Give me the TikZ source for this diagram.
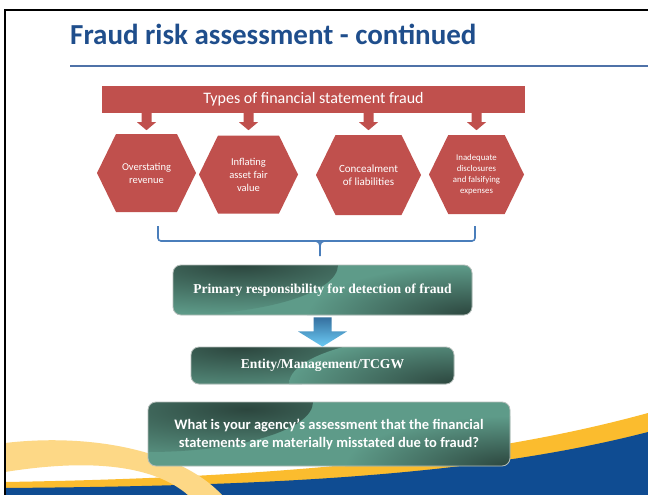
\documentclass[tikz,border=0pt]{standalone}
\usepackage{fontspec}
\setmainfont{Carlito}
\newfontfamily\cambria{Liberation Serif}
\usepackage{tikz}
\usetikzlibrary{shapes.symbols}

\definecolor{titleblue}{HTML}{1F4E8C}
\definecolor{rulegray}{HTML}{4F72A8}
\definecolor{fraudred}{HTML}{C0504D}
\definecolor{bracketblue}{HTML}{4A7EBB}
\definecolor{tealmid}{HTML}{5E9B89}
\definecolor{tealdark}{HTML}{2C463E}
\definecolor{boxedge}{HTML}{B4BDB9}
\definecolor{arrowtop}{HTML}{35709F}
\definecolor{arrowbot}{HTML}{6CCBF5}
\definecolor{bandblue}{HTML}{0F4C92}
\definecolor{bandyellow}{HTML}{FBBC2E}
\definecolor{paleyellow}{HTML}{FDD886}

\begin{document}
\begin{tikzpicture}[x=1pt, y=-1pt,
		hexa/.style={signal, signal to=west and east, signal pointer angle=128, fill=fraudred, text=white, minimum width=99pt, minimum height=78pt, inner sep=0pt, align=center},
		tealbox/.style={rectangle, rounded corners=8pt, draw=boxedge, line width=0.8pt, fill=tealmid, text=white, align=center, inner sep=0pt,
			path picture={
				\shade[inner color=tealdark, outer color=tealmid] (path picture bounding box.north west) ellipse [x radius=165pt, y radius=50pt];
				\shade[inner color=tealdark, outer color=tealmid] (path picture bounding box.south east) ellipse [x radius=165pt, y radius=50pt];}},
		bracket/.style={draw=bracketblue, line width=1.6pt}]
			\useasboundingbox (0,0) rectangle (648,495);
			\fill[white] (0,0) rectangle (648,495);
			% bands along the bottom
			\fill[bandyellow] (5,482) .. controls (250,478) and (470,462) .. (648,413) -- (648,495) -- (5,495) -- cycle;
			\fill[bandblue] (5,488) .. controls (250,486) and (470,478) .. (648,432) -- (648,495) -- (5,495) -- cycle;
			\fill[paleyellow] (5,443) .. controls (90,433) and (180,450) .. (222,495) -- (188,495) .. controls (150,462) and (80,460) .. (5,472) -- cycle;
			\draw[line width=2pt] (5,495) -- (5,10.5) -- (648,10.5);
			
			\node[anchor=base west, inner sep=0pt, text=titleblue, font=\fontsize{29}{34}\selectfont\bfseries] at (70,45) (title){Fraud risk assessment - continued};
			\draw[rulegray, line width=2pt] (70,66) -- (648,66);
			
			\node[fill=fraudred, text=white, minimum width=423pt, minimum height=27pt, inner sep=0pt, font=\fontsize{16}{18}\selectfont] at (313.5,99.5) (types){Types of financial statement fraud};
			\node[hexa, font=\fontsize{10.5}{13}\selectfont] at (146.5,173) (over){Overstating\\revenue};
			\node[hexa, font=\fontsize{10.5}{13}\selectfont] at (248.5,174.5) (infl){Inflating\\asset fair\\value};
			\node[hexa, minimum width=105pt, minimum height=80pt, font=\fontsize{11}{13}\selectfont] at (368.5,175) (conc){Concealment\\of liabilities};
			\node[hexa, minimum width=95pt, minimum height=79pt, font=\fontsize{8.8}{11}\selectfont] at (476.5,174.5) (inad){Inadequate\\disclosures\\and falsifying\\expenses};
			\foreach \h in {over,infl,conc,inad}
				\fill[fraudred] (\h.north |- types.south) ++(-5,0) -- ++(0,9) -- ++(-4.5,0) -- ++(9.5,8) -- ++(9.5,-8) -- ++(-4.5,0) -- ++(0,-9) -- cycle;
			
			\coordinate (bl) at (158,226);
			\coordinate (br) at (475,226);
			\coordinate (bm) at (320,241);
			\coordinate (bt) at (320,256);
			\draw[bracket, rounded corners=3pt] (bl) |- (bm) -| (br);
			\draw[bracket] ([xshift=-4pt]bm) to[out=0,in=90] ([yshift=-5pt]bm) -- (bt);
			\draw[bracket] ([xshift=4pt]bm) to[out=180,in=90] ([yshift=-5pt]bm);
			
			\node[tealbox, minimum width=299pt, minimum height=50pt, font=\cambria\bfseries\fontsize{13.6}{15}\selectfont] at (322.5,290) (prim){Primary responsibility for detection of fraud};
			\node[tealbox, minimum width=263pt, minimum height=37pt, font=\cambria\bfseries\fontsize{13.6}{15}\selectfont] at (322.5,365.5) (ent){Entity/Management/TCGW};
			\node[tealbox, minimum width=362pt, minimum height=64pt, font=\bfseries\fontsize{14.5}{18}\selectfont] at (329,434) (quest){What is your agency’s assessment that the financial\\statements are materially misstated due to fraud?};
			\shade[top color=arrowtop, bottom color=arrowbot] ([xshift=-9pt,yshift=-2pt]prim.south) -- ([xshift=-9pt,yshift=-16pt]prim.south) -- ([xshift=-24.5pt,yshift=-16pt]prim.south) -- (ent.north) -- ([xshift=24.5pt,yshift=-16pt]prim.south) -- ([xshift=9pt,yshift=-16pt]prim.south) -- ([xshift=9pt,yshift=-2pt]prim.south) -- cycle;
		\end{tikzpicture}
\end{document}
